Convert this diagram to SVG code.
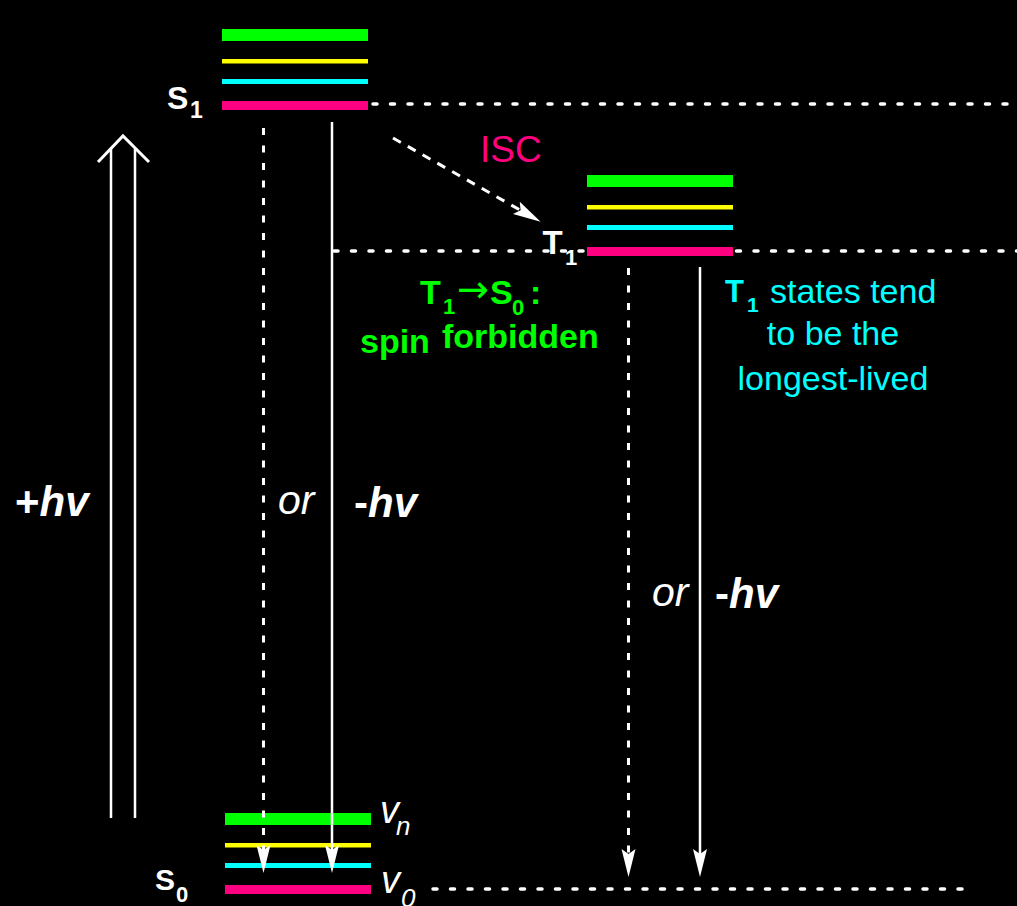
<svg xmlns="http://www.w3.org/2000/svg" width="1017" height="906" viewBox="0 0 1017 906">
<style>
.txt{font-family:"Liberation Sans",Arial,sans-serif;}
.w{fill:#fff}
.b{font-weight:bold}
.i{font-style:italic}
.g{fill:#00ff00}
.c{fill:#00ffff}
.m{fill:#ff0080}
.lvlG{fill:#00ff00}
.lvlY{fill:#ffff00}
.lvlC{fill:#00ffff}
.lvlM{fill:#ff0080}
.hd{stroke:#fff;stroke-width:3.5;stroke-dasharray:4 13.5;stroke-linecap:round;fill:none}
.vd{stroke:#fff;stroke-width:3;stroke-dasharray:7 10.5;fill:none}
.vs{stroke:#fff;stroke-width:2.5;fill:none}
.dd{stroke:#fff;stroke-width:3;stroke-dasharray:9 8;fill:none}
</style>
<defs>
<marker id="ah" markerUnits="userSpaceOnUse" viewBox="0 0 30 16" markerWidth="30" markerHeight="16" refX="16" refY="8" orient="auto">
<path d="M28,8 L0,1 L5,8 L0,15 Z" fill="#fff"/>
</marker>
</defs>
<rect x="0" y="0" width="1017" height="906" fill="#000"/>

<g id="guides">
<line class="hd" x1="373" y1="104" x2="1017" y2="104"/>
<line class="hd" x1="334" y1="251" x2="1017" y2="251"/>
<line class="hd" x1="433" y1="889" x2="965" y2="889"/>
</g>

<g id="S1">
<rect class="lvlG" x="222" y="29" width="146" height="12"/>
<rect class="lvlY" x="222" y="59" width="146" height="4.5"/>
<rect class="lvlC" x="222" y="79" width="146" height="5"/>
<rect class="lvlM" x="222" y="101" width="146" height="9"/>
<text class="txt w b" x="167" y="109" font-size="32">S<tspan x="190" y="117.5" font-size="23">1</tspan></text>
</g>

<g id="T1">
<rect class="lvlG" x="587" y="175" width="146" height="12"/>
<rect class="lvlY" x="587" y="205" width="146" height="4.5"/>
<rect class="lvlC" x="587" y="225" width="146" height="5"/>
<rect class="lvlM" x="587" y="247" width="146" height="9"/>
<text class="txt w b" x="542.5" y="254" font-size="33">T<tspan x="565" y="265" font-size="22">1</tspan></text>
</g>

<g id="S0">
<rect class="lvlG" x="225" y="813" width="146" height="12"/>
<rect class="lvlY" x="225" y="843" width="146" height="4.5"/>
<rect class="lvlC" x="225" y="863" width="146" height="5"/>
<rect class="lvlM" x="225" y="885" width="146" height="9"/>
<text class="txt w b" x="155" y="890" font-size="30">S<tspan x="176" y="901.5" font-size="22">0</tspan></text>
<text class="txt w i" x="380" y="823" font-size="38">v<tspan x="396" y="835" font-size="26">n</tspan></text>
<text class="txt w i" x="381" y="893" font-size="38">v<tspan x="401" y="907" font-size="26">0</tspan></text>
</g>

<g id="connectors">
<polyline points="98,162 123,136 149,162" fill="none" stroke="#fff" stroke-width="3"/>
<line class="vs" x1="111" y1="149" x2="111" y2="818" stroke-width="3"/>
<line class="vs" x1="135" y1="149" x2="135" y2="818" stroke-width="3"/>
<line class="vd" x1="263.5" y1="128" x2="263.5" y2="861" marker-end="url(#ah)"/>
<line class="vs" x1="332" y1="122" x2="332" y2="861" marker-end="url(#ah)"/>
<line class="vd" x1="628.5" y1="268" x2="628.5" y2="865" marker-end="url(#ah)"/>
<line class="vs" x1="700" y1="267" x2="700" y2="865" marker-end="url(#ah)"/>
<line class="dd" x1="393" y1="138" x2="530.2" y2="215.8" marker-end="url(#ah)"/>
</g>

<g id="labels">
<text class="txt m" x="480" y="161.5" font-size="37">ISC</text>
<text class="txt w b" x="15" y="516" font-size="42">+<tspan class="i">hv</tspan></text>
<text class="txt w i" x="278" y="514" font-size="41">or</text>
<text class="txt w b" x="354" y="517" font-size="42">-<tspan class="i">hv</tspan></text>
<text class="txt w i" x="652" y="606" font-size="41">or</text>
<text class="txt w b" x="715" y="608" font-size="42">-<tspan class="i">hv</tspan></text>
<text class="txt g b" x="420" y="304" font-size="34">T<tspan x="443" y="314" font-size="22">1</tspan><tspan x="457" y="302" font-size="38" font-weight="normal" font-family="'DejaVu Sans',sans-serif">→</tspan><tspan x="490" y="304">S</tspan><tspan x="512" y="315" font-size="22">0</tspan><tspan x="530" y="304">:</tspan></text>
<text class="txt g b" x="360" y="353" font-size="34">spin</text>
<text class="txt g b" x="442" y="348" font-size="34">forbidden</text>
<text class="txt c b" x="725" y="302" font-size="31">T<tspan x="747" y="311.5" font-size="21">1</tspan></text>
<text class="txt c" x="770" y="303" font-size="34">states tend</text>
<text class="txt c" x="833" y="345" font-size="34" text-anchor="middle">to be the</text>
<text class="txt c" x="833" y="390" font-size="34" text-anchor="middle">longest-lived</text>
</g>
</svg>
